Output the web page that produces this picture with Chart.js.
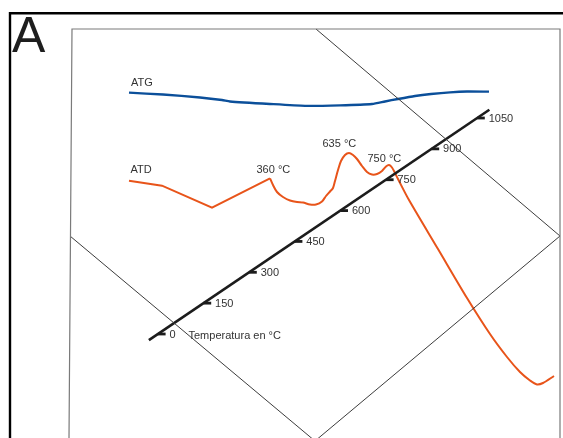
<!DOCTYPE html>
<html>
<head>
<meta charset="utf-8">
<script src="https://cdn.jsdelivr.net/npm/chart.js@4"></script>
<style>
  body { margin: 0; background: #fff; }
  canvas { display: block; }
</style>
</head>
<body>
<canvas id="figure" width="563" height="438"></canvas>
<script>
// Curves (figure units, y grows downwards)
const atgX = [129, 163, 200, 222, 230, 270, 305, 340, 372, 385, 398, 415, 431, 450, 467, 489];
const atgY = [92.7, 94.5, 97.5, 100, 101.5, 104, 105.8, 105.3, 104, 101.5, 99, 96, 94, 92.3, 91.5, 91.7];

// ATD: straight start up to the 360 °C peak, then the smooth part
const atdSharpX = [129, 162, 212, 270];
const atdSharpY = [180.7, 185.7, 207.7, 178.3];
const atdSmoothX = [270, 273, 277, 283, 290, 297, 303, 310, 316, 322, 326, 330, 333, 335, 338, 341, 345, 349, 353, 357, 362, 367, 372, 377, 382, 386, 389, 392, 395, 398, 409, 438, 467, 490, 507, 520, 530, 537, 543, 554];
const atdSmoothY = [178.3, 185, 192, 197, 200.5, 202, 202.5, 204.5, 204.5, 201.5, 196, 191.5, 188, 181, 170, 161, 155, 153, 155, 159, 166, 172, 174.5, 174, 171, 166.5, 165, 167.5, 173, 179, 200, 249, 298, 334, 357, 372, 380.5, 384.5, 383, 376];

// Diagonal temperature axis
const tempTicks = [0, 150, 300, 450, 600, 750, 900, 1050];
const tempRange = [-30, 1090];

// Peak annotations
const peakLabels = ["360 °C", "635 °C", "750 °C"];

// Figure geometry for the frames
const outerX = [10, 10, 563];
const outerY = [438, 13.3, 13.3];
const innerX = [69, 72, 560, 560];
const innerY = [438, 29, 29, 438];
const diamondTopX = [316, 560];
const diamondTopY = [29, 236];
const diamondLowX = [70, 315, 560];
const diamondLowY = [236, 441, 236];

// temperature -> position on the slanted axis
const axisOrigin = { x: 158, y: 334 };
const axisStep = { x: 0.304, y: -0.2057 };
function axisPoint(t) {
    return { x: axisOrigin.x + t * axisStep.x, y: axisOrigin.y + t * axisStep.y };
}

function pts(xs, ys) {
    return xs.map((x, i) => ({ x: x, y: ys[i] }));
}

function lineSet(xs, ys, color, width, tension) {
    return {
        data: pts(xs, ys),
        showLine: true,
        borderColor: color,
        borderWidth: width,
        pointRadius: 0,
        fill: false,
        tension: tension || 0
    };
}

const textColor = "#333";
const font = "11px 'Liberation Sans', Arial, sans-serif";

// Draws the texts of the figure
const labelPlugin = {
    id: "figureLabels",
    afterDatasetsDraw(chart) {
        const ctx = chart.ctx;
        const sx = chart.scales.x;
        const sy = chart.scales.y;
        const px = (x) => sx.getPixelForValue(x);
        const py = (y) => sy.getPixelForValue(y);
        ctx.save();

        ctx.fillStyle = "#1e1e1e";
        ctx.font = "50px 'Liberation Sans', Arial, sans-serif";
        ctx.textBaseline = "alphabetic";
        ctx.textAlign = "left";
        ctx.fillText("A", px(12), py(52));

        ctx.fillStyle = textColor;
        ctx.font = font;
        ctx.fillText("ATG", px(131), py(86));
        ctx.fillText("ATD", px(130.5), py(173));

        const peakPos = [[256.5, 173], [322.5, 147], [367.5, 161.5]];
        peakLabels.forEach((txt, i) => {
            ctx.fillText(txt, px(peakPos[i][0]), py(peakPos[i][1]));
        });

        ctx.textBaseline = "middle";
        tempTicks.forEach((t) => {
            const p = axisPoint(t);
            ctx.fillText(String(t), px(p.x + 11.5), py(p.y + 0.5));
        });
        ctx.fillText("Temperatura en °C", px(188.5), py(335.5));
        ctx.restore();
    }
};

const axisStart = axisPoint(tempRange[0]);
const axisEnd = axisPoint(tempRange[1]);

new Chart(document.getElementById("figure"), {
    type: "scatter",
    data: {
        datasets: [
            lineSet(innerX, innerY, "#7a7a7a", 1.2),
            lineSet(diamondTopX, diamondTopY, "#3c3c3c", 1),
            lineSet(diamondLowX, diamondLowY, "#3c3c3c", 1),
            lineSet(outerX, outerY, "#000", 2.4),
            lineSet(atgX, atgY, "#0b4f9a", 2.3, 0.2),
            lineSet([axisStart.x, axisEnd.x], [axisStart.y, axisEnd.y], "#1c1c1c", 2.6),
            {
                // tick dashes, starting on the axis and pointing right
                data: tempTicks.map((t) => ({ x: axisPoint(t).x + 3.8, y: axisPoint(t).y })),
                showLine: false,
                pointStyle: "line",
                pointRadius: 3.8,
                pointBorderWidth: 2.8,
                pointBorderColor: "#1c1c1c",
                borderColor: "#1c1c1c"
            },
            lineSet(atdSharpX, atdSharpY, "#e8541a", 2),
            lineSet(atdSmoothX, atdSmoothY, "#e8541a", 2, 0.3)
        ]
    },
    options: {
        responsive: false,
        animation: false,
        layout: { padding: 0, autoPadding: false },
        plugins: {
            legend: { display: false },
            tooltip: { enabled: false }
        },
        scales: {
            x: { type: "linear", min: 0, max: 563, display: false },
            y: { type: "linear", min: 0, max: 438, reverse: true, display: false }
        }
    },
    plugins: [labelPlugin]
});
</script>
</body>
</html>
